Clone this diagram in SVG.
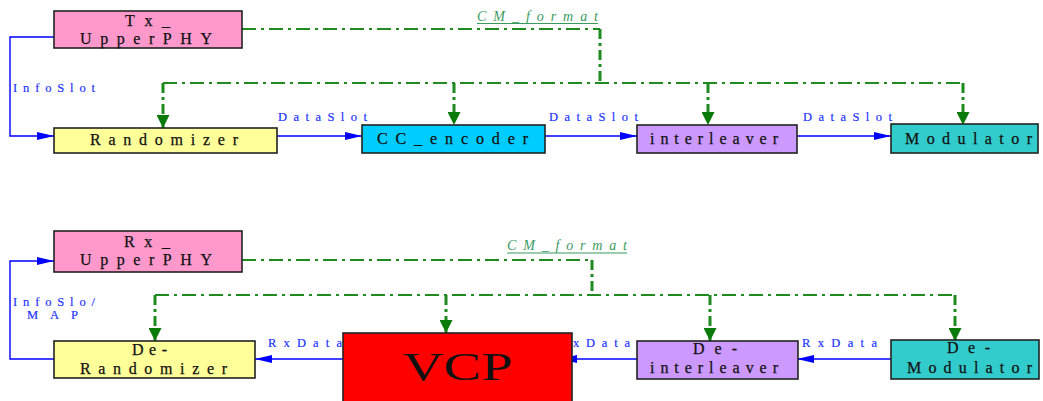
<svg xmlns="http://www.w3.org/2000/svg" width="1043" height="401" viewBox="0 0 1043 401">
  <defs>
    <marker id="arrowBlue" markerWidth="17" markerHeight="8" refX="17" refY="4" orient="auto" markerUnits="userSpaceOnUse">
      <path d="M0,0 L17,4 L0,8 Z" fill="#0000ff"/>
    </marker>
    <marker id="arrowGreen" markerWidth="13" markerHeight="13" refX="6.5" refY="13" orient="0" markerUnits="userSpaceOnUse">
      <path d="M0,0 L13,0 L6.5,13 Z" fill="#0a7a0a"/>
    </marker>
    <style>
      .box { stroke: #222; stroke-width: 1.6; }
      .lbl { font-family: "Liberation Serif", "Times New Roman", serif; font-size: 16px; fill: #111; stroke: #111; stroke-width: 0.25; }
      .blue { font-family: "Liberation Serif", "Times New Roman", serif; font-size: 12.5px; fill: #2233ff; stroke: #2233ff; stroke-width: 0.2; }
      .cm { font-family: "Liberation Serif", "Times New Roman", serif; font-size: 14px; font-style: italic; fill: #3a9a5e; }
      .flow { fill: none; stroke: #0000ff; stroke-width: 1.4; }
      .ctrl { fill: none; stroke: #1f8a1f; stroke-width: 2; stroke-dasharray: 14 5 3 5; }
      .ctrlv { fill: none; stroke: #1f8a1f; stroke-width: 3; stroke-dasharray: 10 4 3 4; }
      .uline { stroke: #3a9a5e; stroke-width: 1.2; }
    </style>
  </defs>
  <rect width="1043" height="401" fill="#ffffff"/>

  <!-- connectors -->
  <g id="connectors">
    <!-- transmit chain data flow -->
    <path class="flow" d="M54,37 H10 V136 H54" marker-end="url(#arrowBlue)"/>
    <path class="flow" d="M277,136 H362" marker-end="url(#arrowBlue)"/>
    <path class="flow" d="M545,136 H637" marker-end="url(#arrowBlue)"/>
    <path class="flow" d="M797,136 H891" marker-end="url(#arrowBlue)"/>
    <!-- transmit chain control -->
    <path class="ctrl" d="M242,29 H600"/>
    <path class="ctrlv" d="M600,29 V83"/>
    <path class="ctrl" d="M163,83 H963"/>
    <path class="ctrlv" d="M163,83 V128" marker-end="url(#arrowGreen)"/>
    <path class="ctrlv" d="M454,83 V125" marker-end="url(#arrowGreen)"/>
    <path class="ctrlv" d="M708,83 V125" marker-end="url(#arrowGreen)"/>
    <path class="ctrlv" d="M963,83 V125" marker-end="url(#arrowGreen)"/>

    <!-- receive chain data flow -->
    <path class="flow" d="M54,359 H10 V261 H54" marker-end="url(#arrowBlue)"/>
    <path class="flow" d="M343,359 H255" marker-end="url(#arrowBlue)"/>
    <path class="flow" d="M637,359 H560" marker-end="url(#arrowBlue)"/>
    <path class="flow" d="M891,359 H797" marker-end="url(#arrowBlue)"/>
    <!-- receive chain control -->
    <path class="ctrl" d="M242,260 H592"/>
    <path class="ctrlv" d="M592,260 V295"/>
    <path class="ctrl" d="M155,295 H955"/>
    <path class="ctrlv" d="M155,295 V341" marker-end="url(#arrowGreen)"/>
    <path class="ctrlv" d="M446,295 V333" marker-end="url(#arrowGreen)"/>
    <path class="ctrlv" d="M710,295 V341" marker-end="url(#arrowGreen)"/>
    <path class="ctrlv" d="M955,295 V341" marker-end="url(#arrowGreen)"/>

    <!-- connector labels -->
    <text class="blue" x="13" y="92" textLength="82" lengthAdjust="spacing">InfoSlot</text>
    <text class="blue" x="278" y="121" textLength="89" lengthAdjust="spacing">DataSlot</text>
    <text class="blue" x="549" y="121" textLength="89" lengthAdjust="spacing">DataSlot</text>
    <text class="blue" x="803" y="121" textLength="89" lengthAdjust="spacing">DataSlot</text>
    <text class="cm" x="477" y="21" textLength="121" lengthAdjust="spacing">CM_format</text>
    <line class="uline" x1="477" y1="23.5" x2="598" y2="23.5"/>

    <text class="blue" x="13" y="306" textLength="82" lengthAdjust="spacing">InfoSlo/</text>
    <text class="blue" x="27" y="319" textLength="51" lengthAdjust="spacing">MAP</text>
    <text class="blue" x="268" y="347" textLength="74" lengthAdjust="spacing">RxData</text>
    <text class="blue" x="573" y="347" textLength="57" lengthAdjust="spacing">xData</text>
    <text class="blue" x="802" y="347" textLength="75" lengthAdjust="spacing">RxData</text>
    <text class="cm" x="507" y="250" textLength="120" lengthAdjust="spacing">CM_format</text>
    <line class="uline" x1="507" y1="253" x2="627" y2="253"/>
  </g>

  <!-- transmit chain -->
  <g id="tx-upperphy">
    <rect class="box" x="54" y="11" width="188" height="37" fill="#ff99cc"/>
    <text class="lbl" x="125" y="26" textLength="45" lengthAdjust="spacing">Tx_</text>
    <text class="lbl" x="80" y="44" textLength="132" lengthAdjust="spacing">UpperPHY</text>
  </g>
  <g id="randomizer">
    <rect class="box" x="54" y="128" width="223" height="25" fill="#ffff99"/>
    <text class="lbl" x="90" y="145" textLength="148" lengthAdjust="spacing">Randomizer</text>
  </g>
  <g id="cc-encoder">
    <rect class="box" x="362" y="125" width="183" height="28" fill="#00ccff"/>
    <text class="lbl" x="377" y="144" textLength="151" lengthAdjust="spacing">CC_encoder</text>
  </g>
  <g id="interleaver">
    <rect class="box" x="637" y="125" width="160" height="28" fill="#cc99ff"/>
    <text class="lbl" x="650" y="144" textLength="128" lengthAdjust="spacing">interleaver</text>
  </g>
  <g id="modulator">
    <rect class="box" x="891" y="124" width="147" height="29" fill="#33cccc"/>
    <text class="lbl" x="905" y="144" textLength="127" lengthAdjust="spacing">Modulator</text>
  </g>

  <!-- receive chain -->
  <g id="rx-upperphy">
    <rect class="box" x="54" y="231" width="188" height="41" fill="#ff99cc"/>
    <text class="lbl" x="124" y="247" textLength="46" lengthAdjust="spacing">Rx_</text>
    <text class="lbl" x="80" y="265" textLength="132" lengthAdjust="spacing">UpperPHY</text>
  </g>
  <g id="de-randomizer">
    <rect class="box" x="54" y="341" width="201" height="37" fill="#ffff99"/>
    <text class="lbl" x="132" y="355" textLength="35" lengthAdjust="spacing">De-</text>
    <text class="lbl" x="80" y="374" textLength="147" lengthAdjust="spacing">Randomizer</text>
  </g>
  <g id="vcp">
    <rect class="box" x="343" y="333" width="229" height="80" fill="#ff0000"/>
    <text x="403" y="380" font-family="'Liberation Serif', 'Times New Roman', serif" font-size="41" fill="#111" textLength="110" lengthAdjust="spacingAndGlyphs">VCP</text>
  </g>
  <g id="de-interleaver">
    <rect class="box" x="637" y="341" width="161" height="38" fill="#cc99ff"/>
    <text class="lbl" x="693" y="354" textLength="44" lengthAdjust="spacing">De-</text>
    <text class="lbl" x="650" y="373" textLength="128" lengthAdjust="spacing">interleaver</text>
  </g>
  <g id="de-modulator">
    <rect class="box" x="891" y="340" width="148" height="39" fill="#33cccc"/>
    <text class="lbl" x="947" y="353" textLength="43" lengthAdjust="spacing">De-</text>
    <text class="lbl" x="907" y="373" textLength="125" lengthAdjust="spacing">Modulator</text>
  </g>
</svg>
